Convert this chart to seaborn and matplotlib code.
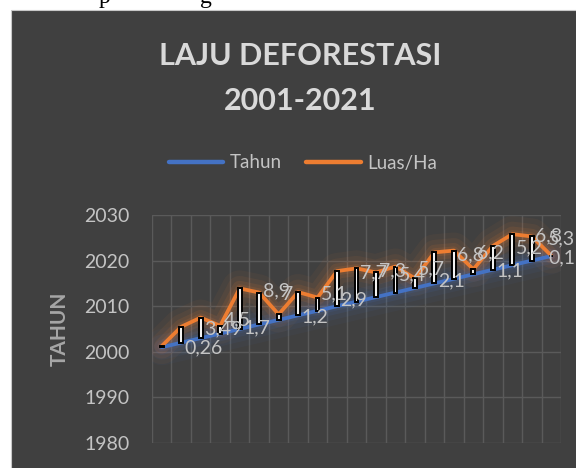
import numpy as np
import pandas as pd
import matplotlib
matplotlib.use("Agg")
import matplotlib.pyplot as plt
import seaborn as sns
from matplotlib.patches import Rectangle
from matplotlib.lines import Line2D

# data (Luas/Ha is stacked on Tahun)
tahun = [2001, 2002, 2003, 2004, 2005, 2006, 2007, 2008, 2009, 2010, 2011,
         2012, 2013, 2014, 2015, 2016, 2017, 2018, 2019, 2020, 2021]
luas = [0.26, 3.49, 4.5, 1.7, 8.9, 7, 1.2, 5.1, 2.9, 7.7, 7.3,
        5.4, 5.7, 2.1, 6.8, 6.2, 1.1, 5.2, 6.8, 5.3, 0.1]
y_ticks = [1980, 1990, 2000, 2010, 2020, 2030]

BLUE = "#4472c4"
ORANGE = "#ed7d31"
BG = "#404040"
W, H = 576, 468

df = pd.DataFrame({"idx": np.arange(len(tahun)), "Tahun": tahun, "Luas/Ha": luas})
df["Total"] = df["Tahun"] + df["Luas/Ha"]

sns.set_style("white")
plt.rcParams["font.family"] = ["Lato", "DejaVu Sans"]

fig = plt.figure(figsize=(W / 100, H / 100), dpi=100, facecolor="white")

# bit of document text peeking above the chart
fig.text(99 / W, 1 - 3 / H, "p", fontsize=17, family="Liberation Serif",
         color="black", ha="left", va="baseline", zorder=-3)
fig.text(200 / W, 1 - 3 / H, "g", fontsize=17, family="Liberation Serif",
         color="black", ha="left", va="baseline", zorder=-3)

# chart area
fig.patches.append(Rectangle((11 / W, -0.01), 1, 1 - 10 / H + 0.01,
                             transform=fig.transFigure, facecolor=BG,
                             edgecolor="#c8c8c8", lw=0.8, zorder=-1))

ax = fig.add_axes([152 / W, 1 - 443 / H, (561 - 152) / W, (443 - 215) / H])
ax.set_facecolor("none")

# soft glow under the lines
for lw_g, a in [(26, 0.05), (18, 0.07), (11, 0.10), (6, 0.12)]:
    ax.plot(df["idx"], df["Tahun"], color=BLUE, lw=lw_g, alpha=a,
            solid_capstyle="round", zorder=1)
    ax.plot(df["idx"], df["Total"], color=ORANGE, lw=lw_g, alpha=a,
            solid_capstyle="round", zorder=1)

sns.lineplot(data=df, x="idx", y="Tahun", ax=ax, color=BLUE, lw=2.7, zorder=3)
sns.lineplot(data=df, x="idx", y="Total", ax=ax, color=ORANGE, lw=2.7, zorder=3)

# up-down bars
ax.bar(df["idx"], df["Luas/Ha"], bottom=df["Tahun"], width=0.2,
       color="#f2f2f2", edgecolor="black", lw=1.4, zorder=5)

labels = []
for x, y, v in zip(df["idx"], df["Total"], df["Luas/Ha"]):
    t = ax.annotate(f"{v:g}".replace(".", ","), (x, y), xytext=(16.5, -1.5),
                    textcoords="offset points", ha="left", va="center",
                    fontsize=14, color="#c4c4c4", zorder=6,
                    annotation_clip=False)
    labels.append(t)

ax.set_ylim(1980, 2030)
ax.set_yticks(y_ticks)
ax.set_xlim(-0.5, len(tahun) - 0.5)
ax.set_xticks(np.arange(-0.5, len(tahun), 1))
ax.set_xticklabels([])
ax.set_xlabel("")
ax.set_ylabel("")
ax.tick_params(length=0, labelsize=14, labelcolor="#c4c4c4", pad=16)
ax.grid(True, color="#5a5a5a", lw=1)
ax.set_axisbelow(True)
for s in ax.spines.values():
    s.set_visible(False)

fig.text(60 / W, 1 - 329 / H, "TAHUN", rotation=90, ha="center", va="center",
         fontsize=15, fontweight="bold", color="#a6a6a6")

fig.text(300 / W, 1 - 65 / H, "LAJU DEFORESTASI", ha="center", va="baseline",
         fontsize=22, fontweight="bold", color="#d9d9d9")
fig.text(300 / W, 1 - 110 / H, "2001-2021", ha="center", va="baseline",
         fontsize=22, fontweight="bold", color="#d9d9d9")

handles = [Line2D([], [], color=BLUE, lw=3.2), Line2D([], [], color=ORANGE, lw=3.2)]
fig.legend(handles, ["Tahun", "Luas/Ha"], loc="center",
           bbox_to_anchor=(303 / W, 1 - 163 / H), ncol=2, frameon=False,
           fontsize=13.5, labelcolor="#c4c4c4", handlelength=2.9,
           handletextpad=0.35, columnspacing=1.3)

# keep labels inside the chart, like excel does
fig.canvas.draw()
r = fig.canvas.get_renderer()
for t in labels:
    bb = t.get_window_extent(r)
    if bb.x1 > W - 1:
        dx = (bb.x1 - (W - 1)) * 72 / fig.dpi
        t.xyann = (t.xyann[0] - dx, t.xyann[1])

fig.savefig("out.png", dpi=100, facecolor="white")
